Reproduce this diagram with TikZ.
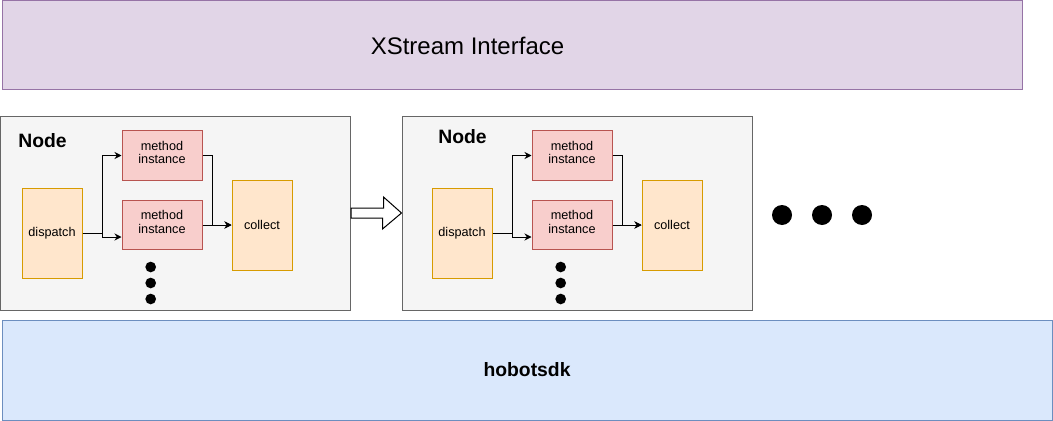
\documentclass[tikz,border=0pt]{standalone}
\usepackage{fontspec}
\setmainfont{Liberation Sans}
\usetikzlibrary{positioning,calc,arrows.meta}

\definecolor{ifacefill}{HTML}{E1D5E7}
\definecolor{ifacedraw}{HTML}{9673A6}
\definecolor{sdkfill}{HTML}{DAE8FC}
\definecolor{sdkdraw}{HTML}{6C8EBF}
\definecolor{nodefill}{HTML}{F5F5F5}
\definecolor{nodedraw}{HTML}{666666}
\definecolor{stagefill}{HTML}{FFE6CC}
\definecolor{stagedraw}{HTML}{D79B00}
\definecolor{methfill}{HTML}{F8CECC}
\definecolor{methdraw}{HTML}{B85450}

\tikzset{
  layerbox/.style={rectangle,draw,line width=0.75pt,inner sep=0pt},
  ifacebox/.style={layerbox,fill=ifacefill,draw=ifacedraw,minimum width=765pt,minimum height=67.1pt},
  sdkbox/.style={layerbox,fill=sdkfill,draw=sdkdraw,minimum width=787.5pt,minimum height=75pt,
    font=\fontsize{14.5}{16}\selectfont\bfseries},
  nodebox/.style={layerbox,fill=nodefill,draw=nodedraw,minimum width=262.5pt,minimum height=145.5pt},
  nodetitle/.style={inner sep=0pt,font=\fontsize{14.5}{16}\selectfont\bfseries},
  stagebox/.style={layerbox,fill=stagefill,draw=stagedraw,minimum width=45pt,minimum height=67.5pt,
    font=\fontsize{9.5}{10}\selectfont},
  methbox/.style={layerbox,fill=methfill,draw=methdraw,minimum width=60pt,minimum height=37.2pt,
    align=center,text depth=4.5pt,font=\fontsize{9.5}{10}\selectfont},
  flow/.style={line width=0.75pt,-{Stealth[length=5.25pt,width=5.25pt]}},
  blockarrow/.style={draw,line width=0.75pt,fill=white,line join=miter}
}

\begin{document}
\begin{tikzpicture}[x=0.75pt,y=-0.75pt]
  \useasboundingbox (0,0) rectangle (1053,421);

  % layers
  \node[ifacebox] (iface) at (512,45.25) {};
  \node[inner sep=0pt,font=\fontsize{18}{20}\selectfont] (ifacetext) at (467.5,46) {XStream Interface};
  \node[sdkbox] (sdk) at (527,370) {hobotsdk};

  % the two nodes
  \foreach \n/\dx/\bx/\lx/\ly in {a/0/175.5/42.5/141, b/410/577/462.5/137}{
    \node[nodebox] (node\n) at (\bx,213) {};
    \node[nodetitle] (title\n) at (\lx,\ly) {Node};
    \node[stagebox] (disp\n) at ({52+\dx},233) {dispatch};
    \node[methbox] (methup\n) at ({162+\dx},155.5) {method\\instance};
    \node[methbox] (methlow\n) at ({162+\dx},225) {method\\instance};
    \node[stagebox] (coll\n) at ({262+\dx},225) {collect};
    \draw[flow] (disp\n.east) -- ++(20,0) |- (methup\n.west);
    \draw[flow] (disp\n.east) -- ++(20,0) |- ($(methlow\n.west)+(0,12)$);
    \draw[flow] (methup\n.east) -- ++(10,0) |- (coll\n.west);
    \draw[flow] (methlow\n.east) -- (coll\n.west);
    \foreach \y in {267,283,299}
      \fill ({150.7+\dx},\y) circle[radius=4pt];
  }

  % pass on to the next node
  \draw[blockarrow] ($(nodea.east)+(0,-5)$) -- ++(32.5,0) -- ++(0,-11) -- (nodeb.west)
    -- ++(-19,16) -- ++(0,-11) -- ($(nodea.east)+(0,5)$) -- cycle;

  % more nodes
  \foreach \x in {782,822,862}
    \fill (\x,215) circle[radius=7.5pt];
\end{tikzpicture}
\end{document}
